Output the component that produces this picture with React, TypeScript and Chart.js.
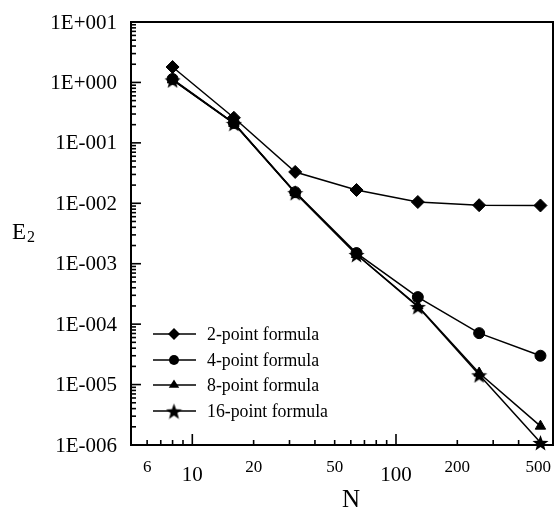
import React, { useEffect, useRef } from "react";
import { Chart, registerables } from "chart.js";

Chart.register(...registerables);

const nValues = [8, 16, 32, 64, 128, 256, 512];
const twoPoint = [1.8, 0.26, 0.033, 0.0166, 0.0105, 0.0093, 0.0092];
const fourPoint = [1.14, 0.213, 0.0153, 0.0015, 2.8e-4, 7.1e-5, 3.0e-5];
const eightPoint = [1.1, 0.21, 0.015, 0.00142, 2.0e-4, 1.55e-5, 2.05e-6];
const sixteenPoint = [1.1, 0.21, 0.015, 0.00142, 1.95e-4, 1.45e-5, 1.1e-6];
const seriesLabels = ["2-point formula", "4-point formula", "8-point formula", "16-point formula"];

const yMajorTicks = [1e1, 1e0, 1e-1, 1e-2, 1e-3, 1e-4, 1e-5, 1e-6];
const yTickLabels = ["1E+001", "1E+000", "1E-001", "1E-002", "1E-003", "1E-004", "1E-005", "1E-006"];
const xMajorTicks = [10, 100];
const xMinorTicks = [6, 7, 8, 9, 20, 30, 40, 50, 60, 70, 80, 90, 200, 300, 400, 500];
const xMinorLabels = [6, 20, 50, 200, 500];
const xMajorLabels = [10, 100];

const FONT = "'Liberation Serif', 'Times New Roman', serif";

function makeStar(size: number) {
  const c = document.createElement("canvas");
  c.width = size;
  c.height = size;
  const g = c.getContext("2d")!;
  const cx = size / 2, cy = size / 2 + size * 0.06;
  const R = size / 2, r = R * 0.42;
  g.beginPath();
  for (let i = 0; i < 10; i++) {
    const a = -Math.PI / 2 + (i * Math.PI) / 5;
    const rad = i % 2 === 0 ? R : r;
    const px = cx + rad * Math.cos(a), py = cy + rad * Math.sin(a);
    if (i === 0) g.moveTo(px, py); else g.lineTo(px, py);
  }
  g.closePath();
  g.fillStyle = "#000";
  g.fill();
  return c;
}

function line(ctx: CanvasRenderingContext2D, x1: number, y1: number, x2: number, y2: number) {
  ctx.beginPath();
  ctx.moveTo(x1, y1);
  ctx.lineTo(x2, y2);
  ctx.stroke();
}

function drawMarker(ctx: CanvasRenderingContext2D, style: any, r: number, x: number, y: number) {
  ctx.fillStyle = "#000";
  if (style instanceof HTMLCanvasElement) {
    ctx.drawImage(style, x - style.width / 2, y - style.height / 2);
    return;
  }
  ctx.beginPath();
  if (style === "circle") {
    ctx.arc(x, y, r, 0, Math.PI * 2);
  } else if (style === "rectRot") {
    ctx.moveTo(x, y - r);
    ctx.lineTo(x + r, y);
    ctx.lineTo(x, y + r);
    ctx.lineTo(x - r, y);
  } else if (style === "triangle") {
    const h = r * 1.5;
    ctx.moveTo(x, y - h * 0.66);
    ctx.lineTo(x + r * 0.95, y + h * 0.34);
    ctx.lineTo(x - r * 0.95, y + h * 0.34);
  }
  ctx.closePath();
  ctx.fill();
}

const axesPlugin = {
  id: "customAxes",
  beforeDatasetsDraw(chart: any) {
    const { ctx, chartArea, scales } = chart;
    const { left, right, top, bottom } = chartArea;
    const x = scales.x, y = scales.y;
    ctx.save();
    ctx.strokeStyle = "#000";
    ctx.lineWidth = 1.6;
    for (let e = -6; e <= 1; e++) {
      const py = y.getPixelForValue(Math.pow(10, e));
      line(ctx, left, py, left + 10, py);
      if (e < 1) {
        for (let k = 2; k <= 9; k++) {
          const pm = y.getPixelForValue(k * Math.pow(10, e));
          line(ctx, left, pm, left + 5, pm);
        }
      }
    }
    xMajorTicks.forEach((v) => {
      const px = x.getPixelForValue(v);
      line(ctx, px, bottom, px, bottom - 11);
    });
    xMinorTicks.forEach((v) => {
      const px = x.getPixelForValue(v);
      line(ctx, px, bottom, px, bottom - 5);
    });
    ctx.lineWidth = 2;
    ctx.strokeRect(left, top, right - left, bottom - top);

    ctx.fillStyle = "#000";
    ctx.font = `21px ${FONT}`;
    ctx.textAlign = "right";
    ctx.textBaseline = "middle";
    yMajorTicks.forEach((v, i) => {
      ctx.fillText(yTickLabels[i], left - 14, y.getPixelForValue(v) + 1);
    });
    ctx.textAlign = "center";
    ctx.font = `17px ${FONT}`;
    xMinorLabels.forEach((v) => {
      ctx.fillText(String(v), x.getPixelForValue(v), bottom + 23);
    });
    ctx.font = `21px ${FONT}`;
    xMajorLabels.forEach((v) => {
      ctx.fillText(String(v), x.getPixelForValue(v), bottom + 30);
    });
    ctx.textBaseline = "alphabetic";
    ctx.font = `25px ${FONT}`;
    ctx.fillText("N", 351, 507);
    ctx.textAlign = "left";
    ctx.font = `23px ${FONT}`;
    ctx.fillText("E", 12, 239);
    ctx.font = `16px ${FONT}`;
    ctx.fillText("2", 27, 242);
    ctx.restore();
  },
  afterDraw(chart: any) {
    const { ctx } = chart;
    ctx.save();
    const x0 = 153, x1 = 196, xm = 174, tx = 207;
    const rows = [334, 360, 385, 411];
    chart.data.datasets.forEach((ds: any, i: number) => {
      const yy = rows[i];
      ctx.strokeStyle = "#000";
      ctx.lineWidth = 1.5;
      line(ctx, x0, yy, x1, yy);
      drawMarker(ctx, ds.pointStyle, ds.legendRadius, xm, yy);
      ctx.fillStyle = "#000";
      ctx.font = `17.8px ${FONT}`;
      ctx.textAlign = "left";
      ctx.textBaseline = "middle";
      ctx.fillText(ds.label, tx, yy + 1);
    });
    ctx.restore();
  },
};

export default function App() {
  const ref = useRef<HTMLCanvasElement | null>(null);
  useEffect(() => {
    if (!ref.current) return;
    const star = makeStar(17);
    const mk = (label: string, data: number[], style: any, radius: number, legendRadius: number) => ({
      label,
      data: nValues.map((n, i) => ({ x: n, y: data[i] })),
      borderColor: "#000",
      backgroundColor: "#000",
      borderWidth: 1.5,
      pointStyle: style,
      pointRadius: radius,
      pointBorderWidth: 1,
      pointBackgroundColor: "#000",
      pointBorderColor: "#000",
      legendRadius,
      clip: false,
      tension: 0,
    });
    const chart = new Chart(ref.current, {
      type: "line",
      data: {
        datasets: [
          mk(seriesLabels[0], twoPoint, "rectRot", 6.5, 6),
          mk(seriesLabels[1], fourPoint, "circle", 5.5, 5),
          mk(seriesLabels[2], eightPoint, "triangle", 6, 5.5),
          mk(seriesLabels[3], sixteenPoint, star, 8, 8),
        ] as any,
      },
      options: {
        responsive: false,
        animation: false,
        layout: { autoPadding: false, padding: { left: 131, top: 22, right: 2, bottom: 66 } },
        plugins: { legend: { display: false }, tooltip: { enabled: false } },
        scales: {
          x: { type: "logarithmic", min: 5, max: 590, display: false },
          y: { type: "logarithmic", min: 1e-6, max: 10, display: false },
        },
      },
      plugins: [axesPlugin],
    });
    return () => chart.destroy();
  }, []);
  return (
    <div style={{ position: "absolute", left: 0, top: 0, width: 555, height: 511, background: "#fff" }}>
      <canvas ref={ref} width={555} height={511} style={{ display: "block" }} />
    </div>
  );
}
